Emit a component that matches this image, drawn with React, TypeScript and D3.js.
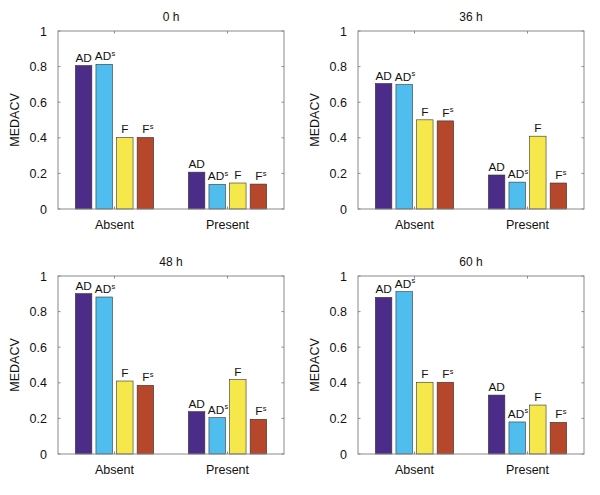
import React from "react";
import * as d3 from "d3";

const panelTitles = ["0 h", "36 h", "48 h", "60 h"];
const groups = ["Absent", "Present"];
const series = ["AD", "ADs", "F", "Fs"];
const seriesColors = ["#4b2c88", "#4fbeef", "#f6e84a", "#b6472b"];
const yTicks = [0, 0.2, 0.4, 0.6, 0.8, 1];
const yTickLabels = ["0", "0.2", "0.4", "0.6", "0.8", "1"];

// values[panel][group][series]
const values0h = [[0.806, 0.813, 0.402, 0.402], [0.207, 0.138, 0.146, 0.14]];
const values36h = [[0.705, 0.699, 0.501, 0.495], [0.191, 0.151, 0.409, 0.146]];
const values48h = [[0.901, 0.882, 0.41, 0.386], [0.238, 0.204, 0.418, 0.195]];
const values60h = [[0.88, 0.912, 0.403, 0.403], [0.331, 0.18, 0.275, 0.178]];
const panelValues = [values0h, values36h, values48h, values60h];

const panelOffsets = [[0, 0], [300, 0], [0, 245], [300, 245]];
const FONT = "'Liberation Sans', Arial, Helvetica, sans-serif";

function Label({ name, x, y }: { name: string; x: number; y: number }) {
  const base = name.replace("s", "");
  const hasS = name.endsWith("s");
  return (
    <text x={x} y={y} textAnchor="middle" fontSize={11.8} fontFamily={FONT} fill="#111">
      {base}
      {hasS && (
        <tspan fontSize={7.5} dy={-4.5} dx={0.3}>
          s
        </tspan>
      )}
    </text>
  );
}

function Panel({ idx }: { idx: number }) {
  const [ox, oy] = panelOffsets[idx];
  const left = 58, right = 284, top = 31, bottom = 209;
  const y = d3.scaleLinear().domain([0, 1]).range([bottom, top]);
  const x = d3.scaleLinear().domain([0.5, 2.5]).range([left, right]);
  const barW = 16.5;
  const step = 20.6;
  const vals = panelValues[idx];
  return (
    <g transform={`translate(${ox},${oy})`}>
      <text x={(left + right) / 2} y={21} textAnchor="middle" fontSize={12} fontWeight="normal" fontFamily={FONT} fill="#111">
        {panelTitles[idx]}
      </text>
      {vals.map((gv, gi) =>
        gv.map((v, si) => {
          const cx = x(gi + 1) + (si - 1.5) * step;
          return (
            <g key={`${gi}-${si}`}>
              <rect
                x={cx - barW / 2}
                y={y(v)}
                width={barW}
                height={y(0) - y(v)}
                fill={seriesColors[si]}
                stroke="#333"
                strokeWidth={0.6}
              />
              <Label name={series[si]} x={cx + (series[si] === "Fs" ? 2.5 : series[si] === "ADs" ? 0.8 : 0)} y={y(v) - 4} />
            </g>
          );
        })
      )}
      <rect x={left} y={top} width={right - left} height={bottom - top} fill="none" stroke="#8a8a8a" strokeWidth={1} />
      {yTicks.map((t, i) => (
        <g key={t}>
          <line x1={left} x2={left + 2.5} y1={y(t)} y2={y(t)} stroke="#8a8a8a" />
          <line x1={right} x2={right - 2.5} y1={y(t)} y2={y(t)} stroke="#8a8a8a" />
          <text x={left - 11} y={y(t) + 4.5} textAnchor="end" fontSize={12.5} fontFamily={FONT} fill="#111">
            {yTickLabels[i]}
          </text>
        </g>
      ))}
      {groups.map((g, gi) => (
        <g key={g}>
          <line x1={x(gi + 1)} x2={x(gi + 1)} y1={bottom} y2={bottom - 2.5} stroke="#8a8a8a" />
          <line x1={x(gi + 1)} x2={x(gi + 1)} y1={top} y2={top + 2.5} stroke="#8a8a8a" />
          <text x={x(gi + 1)} y={bottom + 20} textAnchor="middle" fontSize={12.5} fontFamily={FONT} fill="#111">
            {g}
          </text>
        </g>
      ))}
      <text
        transform={`translate(${19},${(top + bottom) / 2}) rotate(-90)`}
        textAnchor="middle"
        fontSize={12.5}
        fontFamily={FONT}
        fill="#111"
      >
        MEDACV
      </text>
    </g>
  );
}

export default function App() {
  return (
    <svg width={600} height={495} style={{ position: "absolute", left: 0, top: 0, background: "#fff" }}>
      <rect width={600} height={495} fill="#fff" />
      {[0, 1, 2, 3].map((i) => (
        <Panel key={i} idx={i} />
      ))}
    </svg>
  );
}
